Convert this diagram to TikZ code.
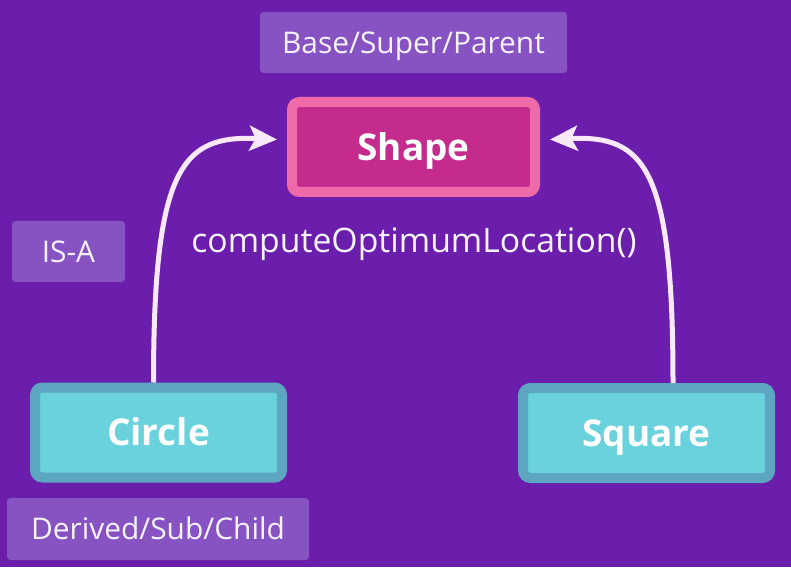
\documentclass[tikz,border=0pt]{standalone}
\usepackage{fontspec}
\setmainfont{Open Sans}
\definecolor{bgpurple}{HTML}{6A1EAB}
\definecolor{tagpurple}{HTML}{8752C2}
\definecolor{pinkedge}{HTML}{EE6AA8}
\definecolor{pinkfill}{HTML}{C42B8C}
\definecolor{tealedge}{HTML}{5CA6C2}
\definecolor{tealfill}{HTML}{69D2DD}
\definecolor{arrowpink}{HTML}{F8E8F8}
\definecolor{labelwhite}{HTML}{F6F2FA}
\usetikzlibrary{arrows.meta, positioning, calc}

\begin{document}
\begin{tikzpicture}[
        tag/.style={fill=tagpurple, rounded corners=2pt, text=labelwhite,
                    font=\fontsize{17}{20}\selectfont, align=center, inner sep=0pt,
                    text height=16.2pt, text depth=4.1pt},
        classbox/.style={draw=tealedge, fill=tealfill, line width=0.2cm,
                         rounded corners=0.15cm, text=white,
                         font=\fontsize{21}{25}\selectfont\bfseries,
                         minimum width=4.94cm, minimum height=1.8cm, inner sep=0pt,
                         text height=20pt, text depth=5pt},
        basebox/.style={classbox, draw=pinkedge, fill=pinkfill,
                        minimum width=4.86cm},
        arr/.style={-{Stealth[length=0.55cm, width=0.5cm, inset=0.12cm]},
                    arrowpink, line width=0.1cm}
      ]
        \fill[bgpurple] (0,0) rectangle (15.82,11.34);
        \useasboundingbox (0,0) rectangle (15.82,11.34);

        \node[tag, minimum width=6.14cm, minimum height=1.22cm] (base) at (8.27,10.49) {Base/Super/Parent};
        \node[basebox] (shape) at (8.27,8.4) {Shape};
        \node[text=labelwhite, font=\fontsize{19.2}{23}\selectfont] (method) at (8.28,6.45) {computeOptimumLocation()};
        \node[tag, minimum width=2.26cm, minimum height=1.22cm] (isa) at (1.37,6.31) {IS-A};

        \node[classbox] (circle) at (3.17,2.69) {Circle};
        \node[classbox] (square) at (12.93,2.68) {Square};
        \node[tag, minimum width=6.04cm, minimum height=1.24cm] (derived) at (3.16,0.76) {Derived/Sub/Child};

        % inheritance arrows
        \draw[arr, shorten >=0.2cm] ([xshift=-0.1cm]circle.north) .. controls +(0,4.3) and +(-2.1,0.1) .. ([yshift=0.14cm]shape.west);
        \draw[arr, shorten >=0.2cm] ([xshift=0.53cm]square.north) .. controls +(0,4.3) and +(2.1,0.1) .. ([yshift=0.14cm]shape.east);
      \end{tikzpicture}
\end{document}
